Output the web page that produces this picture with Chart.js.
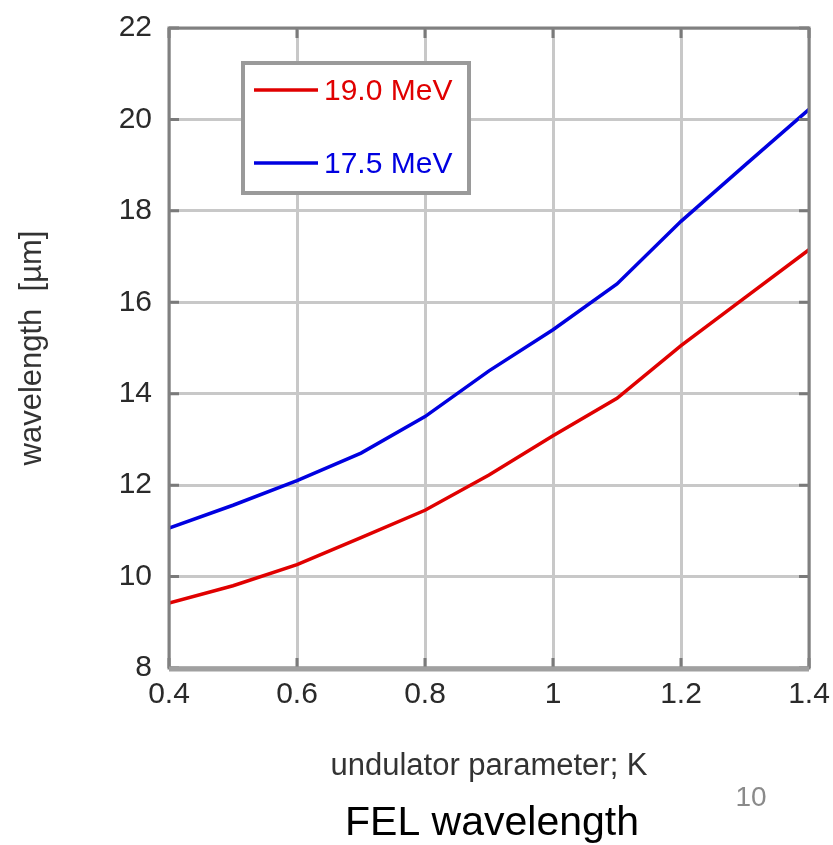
<!DOCTYPE html>
<html lang="en">
<head>
    <meta charset="UTF-8">
    <title>FEL wavelength</title>
    <script src="https://cdnjs.cloudflare.com/ajax/libs/Chart.js/4.4.1/chart.umd.min.js"></script>
    <style>
        body { margin: 0; background: #fff; }
        .wrap { position: relative; width: 833px; height: 845px; }
    </style>
</head>
<body>
<div class="wrap"><canvas id="felChart" width="833" height="845"></canvas></div>
<script>
    // undulator parameter K
    const kValues = [0.4, 0.5, 0.6, 0.7, 0.8, 0.9, 1.0, 1.1, 1.2, 1.3, 1.4];
    // wavelength [um]
    const wl190 = [9.42, 9.8, 10.26, 10.85, 11.45, 12.22, 13.08, 13.9, 15.05, 16.1, 17.15];
    const wl175 = [11.06, 11.56, 12.1, 12.7, 13.5, 14.5, 15.4, 16.4, 17.77, 19.0, 20.22];
    const seriesLabels = ['19.0 MeV', '17.5 MeV'];
    const xTicks = [0.4, 0.6, 0.8, 1, 1.2, 1.4];
    const yTicks = [8, 10, 12, 14, 16, 18, 20, 22];

    const FONT = 'Arial, "Liberation Sans", sans-serif';
    const toPoints = (ys) => kValues.map((k, i) => ({ x: k, y: ys[i] }));

    // frame, inner tick marks, legend box and texts
    const decor = {
        id: 'decor',
        afterDatasetsDraw(chart) {
            const { ctx, chartArea: a, scales } = chart;
            ctx.save();
            // inner tick marks
            ctx.strokeStyle = '#7a7a7a';
            ctx.lineWidth = 3;
            xTicks.forEach(v => {
                const px = scales.x.getPixelForValue(v);
                ctx.beginPath();
                ctx.moveTo(px, a.bottom); ctx.lineTo(px, a.bottom - 10);
                ctx.moveTo(px, a.top); ctx.lineTo(px, a.top + 10);
                ctx.stroke();
            });
            yTicks.forEach(v => {
                const py = scales.y.getPixelForValue(v);
                ctx.beginPath();
                ctx.moveTo(a.left, py); ctx.lineTo(a.left + 10, py);
                ctx.moveTo(a.right, py); ctx.lineTo(a.right - 10, py);
                ctx.stroke();
            });
            // frame
            ctx.strokeStyle = '#808080';
            ctx.lineWidth = 3;
            ctx.strokeRect(a.left, a.top, a.right - a.left, a.bottom - a.top);
            ctx.strokeStyle = '#a0a0a0';
            ctx.lineWidth = 5;
            ctx.beginPath();
            ctx.moveTo(a.left, a.bottom + 1); ctx.lineTo(a.right, a.bottom + 1);
            ctx.stroke();

            // legend
            const lx = 243, ly = 63, lw = 226, lh = 130;
            ctx.fillStyle = '#fff';
            ctx.fillRect(lx, ly, lw, lh);
            ctx.strokeStyle = '#9a9a9a';
            ctx.lineWidth = 4;
            ctx.strokeRect(lx, ly, lw, lh);
            ctx.font = '30px ' + FONT;
            ctx.textBaseline = 'middle';
            chart.data.datasets.forEach((ds, i) => {
                const yy = ly + 27 + i * 73;
                ctx.strokeStyle = ds.borderColor;
                ctx.lineWidth = 3.5;
                ctx.beginPath();
                ctx.moveTo(lx + 11, yy); ctx.lineTo(lx + 75, yy);
                ctx.stroke();
                ctx.fillStyle = ds.borderColor;
                ctx.textAlign = 'left';
                ctx.fillText(ds.label, lx + 81, yy + 2);
            });

            // axis titles and captions
            ctx.fillStyle = '#333';
            ctx.textAlign = 'center';
            ctx.textBaseline = 'alphabetic';
            ctx.font = '31px ' + FONT;
            const cx = (a.left + a.right) / 2;
            ctx.fillText('undulator parameter; K', cx, 775);
            ctx.save();
            ctx.translate(41, (a.top + a.bottom) / 2);
            ctx.rotate(-Math.PI / 2);
            ctx.fillText('wavelength  [\u00b5m]', 0, 0);
            ctx.restore();
            ctx.fillStyle = '#000';
            ctx.font = '41px ' + FONT;
            ctx.fillText('FEL wavelength', cx + 3, 835);
            ctx.fillStyle = '#8a8a8a';
            ctx.font = '28px ' + FONT;
            ctx.fillText('10', 751, 806);
            ctx.restore();
        }
    };

    // keep the plot box fixed regardless of tick label overhang
    const noPad = (s) => { s.paddingTop = 0; s.paddingBottom = 0; s.paddingLeft = 0; s.paddingRight = 0; };

    const ctx = document.getElementById('felChart').getContext('2d');
    new Chart(ctx, {
        type: 'line',
        data: {
            datasets: [{
                label: seriesLabels[0],
                data: toPoints(wl190),
                borderColor: '#e00000',
                borderWidth: 3.5,
                pointRadius: 0,
                tension: 0
            }, {
                label: seriesLabels[1],
                data: toPoints(wl175),
                borderColor: '#0000e0',
                borderWidth: 3.5,
                pointRadius: 0,
                tension: 0
            }]
        },
        options: {
            responsive: false,
            animation: false,
            layout: { padding: { top: 28, right: 24, left: 0, bottom: 0 } },
            plugins: { legend: { display: false }, tooltip: { enabled: false } },
            scales: {
                x: {
                    type: 'linear',
                    min: 0.4, max: 1.4,
                    afterBuildTicks: (s) => { s.ticks = xTicks.map(v => ({ value: v })); },
                    afterFit: (s) => { s.height = 177; noPad(s); },
                    grid: { color: '#c8c8c8', lineWidth: 3, drawTicks: false },
                    border: { display: false },
                    ticks: {
                        color: '#2a2a2a',
                        padding: 9,
                        maxRotation: 0,
                        autoSkip: false,
                        font: { size: 30, family: FONT },
                        callback: (v) => String(v)
                    }
                },
                y: {
                    min: 8, max: 22,
                    afterBuildTicks: (s) => { s.ticks = yTicks.map(v => ({ value: v })); },
                    afterFit: (s) => { s.width = 169; noPad(s); },
                    grid: { color: '#c8c8c8', lineWidth: 3, drawTicks: false },
                    border: { display: false },
                    ticks: {
                        color: '#2a2a2a',
                        padding: 17,
                        autoSkip: false,
                        font: { size: 30, family: FONT }
                    }
                }
            }
        },
        plugins: [decor]
    });
</script>
</body>
</html>
